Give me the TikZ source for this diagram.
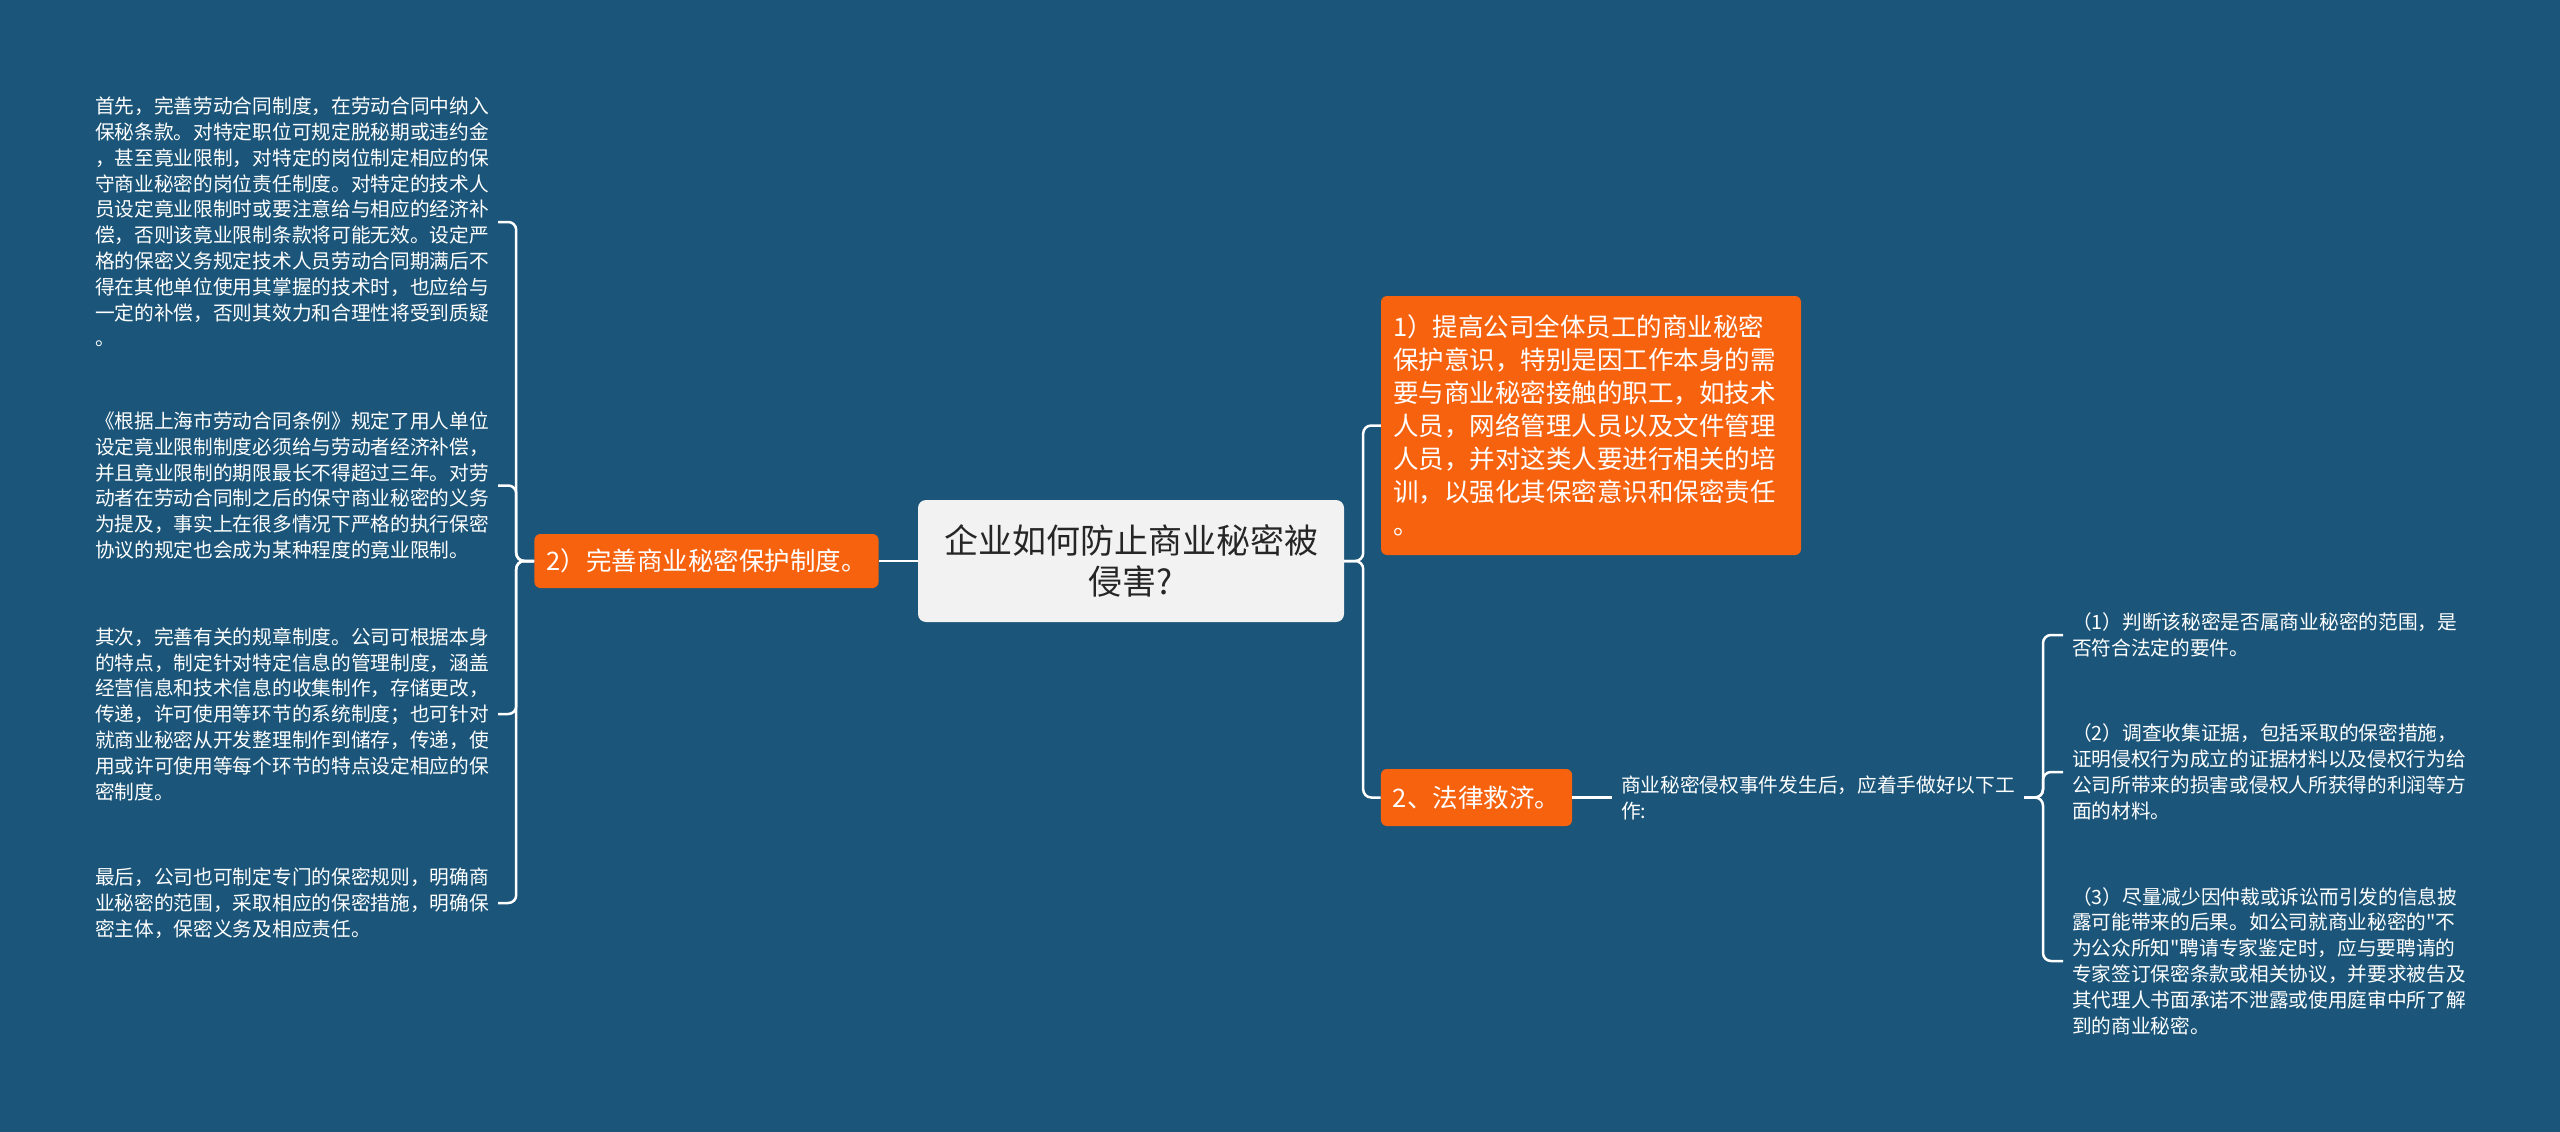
\documentclass[tikz,border=0pt]{standalone}
\usepackage{fontspec}
\setmainfont{Noto Sans CJK SC}[Ligatures=TeXOff]
\definecolor{fundo}{HTML}{1B5579}
\definecolor{laranja}{HTML}{F7620F}
\definecolor{cinza}{HTML}{F2F2F2}
\tikzset{
  raiz/.style={rectangle, rounded corners=8pt, fill=cinza, text=black!85, font=\fontsize{34}{41}\selectfont, align=center, minimum width=426pt, minimum height=122pt, inner sep=0pt},
  ramo/.style={rectangle, rounded corners=6pt, fill=laranja, text=white, font=\fontsize{25.5}{33}\selectfont, inner xsep=12pt, inner ysep=0pt, align=left},
  folha/.style={text=white, font=\fontsize{19.7}{25.8}\selectfont, align=left, inner sep=0pt, outer xsep=9pt, anchor=west},
  ligacao/.style={draw=white, line width=2.5pt, rounded corners=8pt},
}
\begin{document}
\begin{tikzpicture}[x=1pt, y=-1pt]
            \fill[fundo] (0,0) rectangle (2560,1132);
            \useasboundingbox (0,0) rectangle (2560,1132);

            %nós
            \draw (1131,561) node[raiz](n0){企业如何防止商业秘密被\\侵害?}
            (706.5,561) node[ramo, minimum width=343pt, minimum height=54pt](n1){2）完善商业秘密保护制度。}
            (1591,425.5) node[ramo, text width=396pt, minimum height=259pt](n2){1）提高公司全体员工的商业秘密\\保护意识，特别是因工作本身的需\\要与商业秘密接触的职工，如技术\\人员，网络管理人员以及文件管理\\人员，并对这类人要进行相关的培\\训，以强化其保密意识和保密责任\\。}
            (1476.5,797.5) node[ramo, minimum width=191pt, minimum height=57pt](n3){2、法律救济。};

            %folhas
            \draw (86,222) node[folha](f1){首先，完善劳动合同制度，在劳动合同中纳入\\保秘条款。对特定职位可规定脱秘期或违约金\\，甚至竟业限制，对特定的岗位制定相应的保\\守商业秘密的岗位责任制度。对特定的技术人\\员设定竟业限制时或要注意给与相应的经济补\\偿，否则该竟业限制条款将可能无效。设定严\\格的保密义务规定技术人员劳动合同期满后不\\得在其他单位使用其掌握的技术时，也应给与\\一定的补偿，否则其效力和合理性将受到质疑\\。}
            (86,485.5) node[folha](f2){《根据上海市劳动合同条例》规定了用人单位\\设定竟业限制制度必须给与劳动者经济补偿，\\并且竟业限制的期限最长不得超过三年。对劳\\动者在劳动合同制之后的保守商业秘密的义务\\为提及，事实上在很多情况下严格的执行保密\\协议的规定也会成为某种程度的竟业限制。}
            (86,714) node[folha](f3){其次，完善有关的规章制度。公司可根据本身\\的特点，制定针对特定信息的管理制度，涵盖\\经营信息和技术信息的收集制作，存储更改，\\传递，许可使用等环节的系统制度；也可针对\\就商业秘密从开发整理制作到储存，传递，使\\用或许可使用等每个环节的特点设定相应的保\\密制度。}
            (86,903) node[folha](f4){最后，公司也可制定专门的保密规则，明确商\\业秘密的范围，采取相应的保密措施，明确保\\密主体，保密义务及相应责任。}
            (1612,797.5) node[folha](t1){商业秘密侵权事件发生后，应着手做好以下工\\作:}
            (2063,635) node[folha](g1){（1）判断该秘密是否属商业秘密的范围，是\\否符合法定的要件。}
            (2063,772) node[folha](g2){（2）调查收集证据，包括采取的保密措施，\\证明侵权行为成立的证据材料以及侵权行为给\\公司所带来的损害或侵权人所获得的利润等方\\面的材料。}
            (2063,961) node[folha](g3){（3）尽量减少因仲裁或诉讼而引发的信息披\\露可能带来的后果。如公司就商业秘密的"不\\为公众所知"聘请专家鉴定时，应与要聘请的\\专家签订保密条款或相关协议，并要求被告及\\其代理人书面承诺不泄露或使用庭审中所了解\\到的商业秘密。};

            %ligações
            \draw[ligacao] (n0.west) -- (n1.east);
            \draw[ligacao] (n0.east) -- ++(19,0) |- (n2.west);
            \draw[ligacao] (n0.east) -- ++(19,0) |- (n3.west);
            \draw[ligacao] (n1.west) -- ++(-18,0) |- (f1.east);
            \draw[ligacao] (n1.west) -- ++(-18,0) |- (f2.east);
            \draw[ligacao] (n1.west) -- ++(-18,0) |- (f3.east);
            \draw[ligacao] (n1.west) -- ++(-18,0) |- (f4.east);
            \draw[ligacao] (n3.east) -- (t1.west);
            \draw[ligacao] (t1.east) -- ++(19,0) |- (g1.west);
            \draw[ligacao] (t1.east) -- ++(19,0) |- (g2.west);
            \draw[ligacao] (t1.east) -- ++(19,0) |- (g3.west);
\end{tikzpicture}
\end{document}
